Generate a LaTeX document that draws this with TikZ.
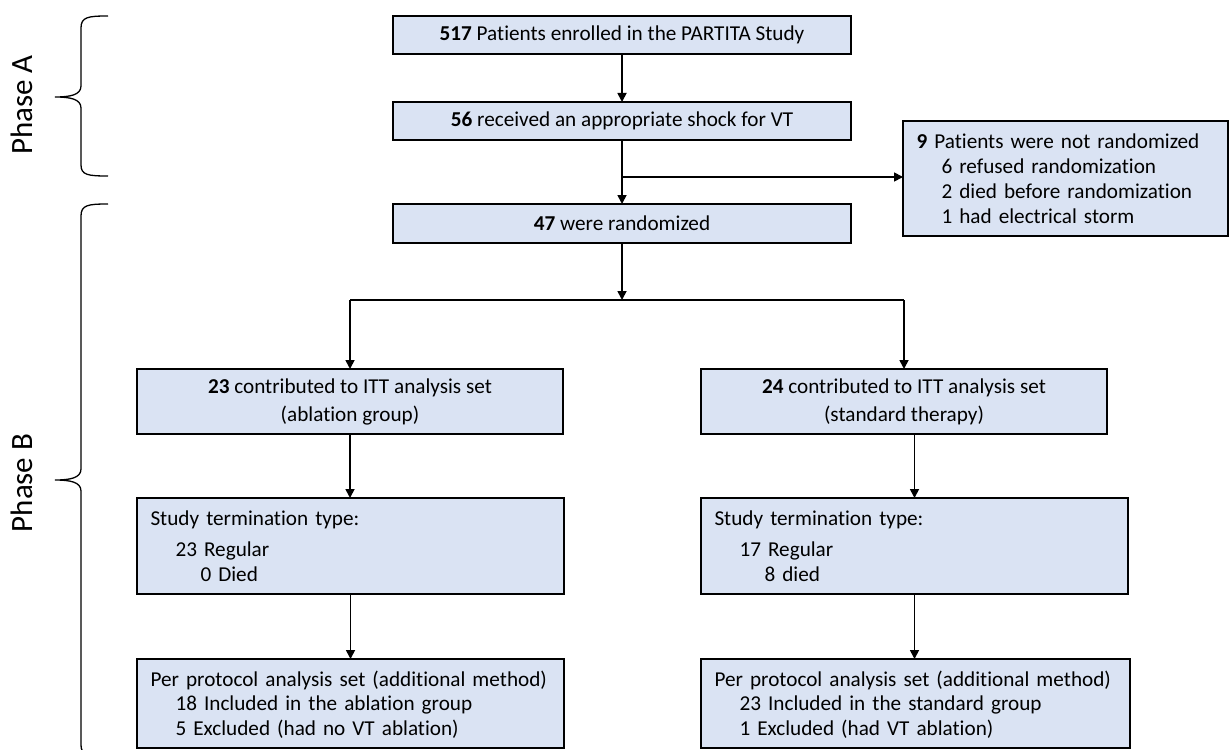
\documentclass[tikz,border=0pt]{standalone}
\usepackage{fontspec}
\setmainfont{Carlito}[Ligatures=NoCommon]
\usetikzlibrary{arrows.meta}
\definecolor{boxfill}{HTML}{DAE3F3}
\newcommand{\ind}{\hspace*{12.5pt}}
\newcommand{\lines}[1]{\raisebox{-1.2pt}[\height][\depth]{\begin{tabular}{@{}l@{}}#1\end{tabular}}}
\begin{document}
\begin{tikzpicture}[x=0.5pt,y=-0.5pt,
  box/.style={draw, fill=boxfill, line width=0.8pt, inner sep=0pt, outer sep=0pt,
    font=\fontsize{10.6}{12.4}\selectfont},
  cbox/.style={box, align=center},
  lbox/.style={box, align=left, inner xsep=6.75pt},
  conn/.style={line width=0.85pt, -{Triangle[length=4.5pt,width=4.5pt]}},
  plainline/.style={line width=0.85pt},
  bracestyle/.style={line width=0.65pt},
  phase/.style={rotate=90, font=\fontsize{15.5}{18}\selectfont}]
\clip (0,0) rectangle (1230,749);
\fill[white] (0,0) rectangle (1230,749);

% Phase labels and braces
\node[phase] (pa) at (22,105) {Phase A};
\node[phase] (pb) at (22,483) {Phase B};
\draw[bracestyle] (108,16) .. controls (88,16) and (81,17) .. (81,28)
  -- (81,86) .. controls (81,95) and (70,97) .. (55,97)
  .. controls (70,97) and (81,99) .. (81,108)
  -- (81,165) .. controls (81,175) and (88,176) .. (108,176);
\draw[bracestyle] (108,204) .. controls (88,204) and (81,205) .. (81,216)
  -- (81,469) .. controls (81,478) and (70,480) .. (55,480)
  .. controls (70,480) and (81,482) .. (81,491)
  -- (81,745) .. controls (81,755) and (88,756) .. (108,756);

% Boxes
\node[cbox, minimum width=229pt, minimum height=19pt] (b1) at (622,35)
  {\textbf{517} Patients enrolled in the PARTITA Study};
\node[cbox, minimum width=229pt, minimum height=19pt] (b2) at (622,121)
  {\textbf{56} received an appropriate shock for VT};
\node[cbox, minimum width=229pt, minimum height=19.5pt] (b3) at (622,223.5)
  {\textbf{47} were randomized};
\node[lbox, text width=149pt, minimum height=57.5pt] (side) at (1065.5,178.5)
  {\lines{\textbf{9} Patients were not randomized\\
   \ind 6 refused randomization\\
   \ind 2 died before randomization\\
   \ind 1 had electrical storm}};
\node[cbox, minimum width=213pt, minimum height=32.5pt, font=\fontsize{10.6}{14}\selectfont] (itt1) at (350,401.5)
  {\textbf{23} contributed to ITT analysis set\\(ablation group)};
\node[cbox, minimum width=203pt, minimum height=32.5pt, font=\fontsize{10.6}{14}\selectfont] (itt2) at (904,401.5)
  {\textbf{24} contributed to ITT analysis set\\(standard therapy)};
\node[lbox, text width=200pt, minimum height=48pt] (st1) at (350.5,546)
  {\lines{Study termination type:\\[3pt]
   \ind 23 Regular\\
   \ind\ind 0 Died}};
\node[lbox, text width=200pt, minimum height=48pt] (st2) at (914.5,546)
  {\lines{Study termination type:\\[3pt]
   \ind 17 Regular\\
   \ind\ind 8 died}};
\node[lbox, text width=200pt, minimum height=44.5pt] (pp1) at (350.5,703.5)
  {\lines{Per protocol analysis set (additional method)\\
   \ind 18 Included in the ablation group\\
   \ind 5 Excluded (had no VT ablation)}};
\node[lbox, text width=201pt, minimum height=44.5pt] (pp2) at (915.5,703.5)
  {\lines{Per protocol analysis set (additional method)\\
   \ind 23 Included in the standard group\\
   \ind 1 Excluded (had VT ablation)}};

% Connectors
\draw[conn] (b1) -- (b2);
\draw[conn] (b2) -- (b3);
\coordinate (br) at (b2.south |- 0,177);
\draw[conn] (br) -- (br -| side.west);
\coordinate (split) at (622,300);
\draw[conn] (b3) -- (split);
\coordinate (sl) at (itt1.north |- split);
\coordinate (sr) at (itt2.north |- split);
\draw[plainline] (sl) -- (sr);
\draw[conn] (sl) -- (itt1.north);
\draw[conn] (sr) -- (itt2.north);
\draw[conn] (itt1.south) -- (itt1.south |- st1.north);
\draw[conn] (st1.south) -- (pp1.north);
\draw[conn] (st2.north |- itt2.south) -- (st2.north);
\draw[conn] (st2.south) -- (st2.south |- pp2.north);
\end{tikzpicture}
\end{document}
